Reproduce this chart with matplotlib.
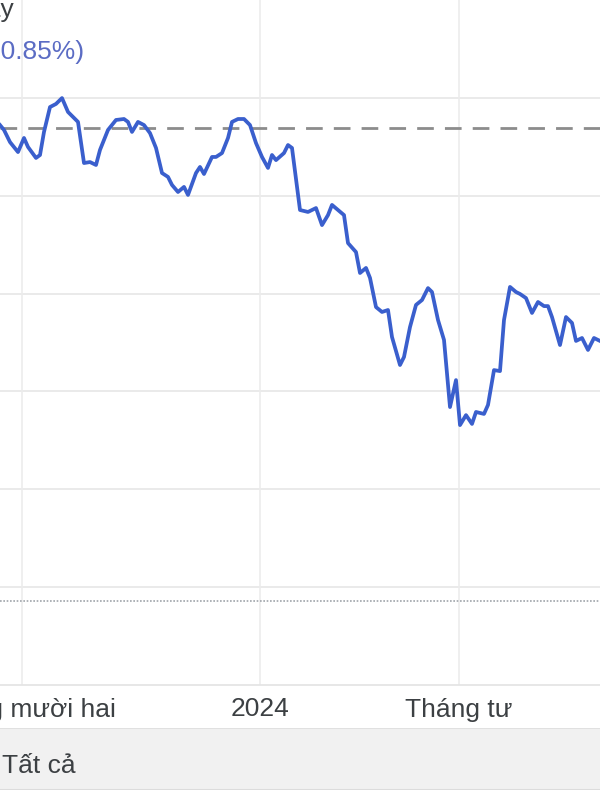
import matplotlib.pyplot as plt

plt.rcParams['font.family'] = ['Liberation Sans', 'DejaVu Sans']

# trading-day index (approx.) and closing price
days = [0, 2, 5, 9, 12, 14, 18, 20, 22, 25, 28, 31, 34, 39, 42, 45, 48, 50, 54, 58, 62, 64, 66, 69, 72, 75,
        78, 81, 84, 86, 89, 92, 94, 98, 100, 102, 106, 108, 111, 114, 116, 119, 122, 125, 128, 131, 134, 136,
        138, 142, 144, 146,
        150, 154, 158, 161, 164, 166, 169, 172, 174, 178, 180, 183, 185, 188, 191, 194, 196, 200, 202, 205,
        208, 211, 214, 216, 219, 222,
        225, 228, 230, 233, 236, 238, 242, 244, 247, 250, 252, 255, 258, 260, 263, 266, 269, 272, 274, 276,
        280, 283, 286, 288, 291, 294, 297, 300]
prices = [1286.1, 1283.6, 1277.4, 1272.3, 1279.5, 1274.9, 1269.3, 1270.8, 1282.6, 1295.3, 1296.9, 1299.9,
          1292.8, 1287.7, 1266.7, 1267.2, 1265.7, 1273.4, 1283.6, 1288.7, 1289.2, 1287.7, 1282.6, 1287.7,
          1286.1, 1282.0,
          1274.4, 1261.6, 1259.6, 1255.5, 1251.9, 1254.5, 1250.4, 1261.6, 1264.7, 1261.1, 1269.8, 1269.8,
          1271.8, 1279.5, 1287.7, 1289.2, 1289.2, 1286.1, 1276.9, 1269.8, 1264.2, 1270.8, 1268.2, 1271.8,
          1275.9, 1274.4,
          1242.7, 1241.7, 1243.7, 1235.0, 1240.1, 1245.3, 1242.7, 1240.1, 1225.8, 1221.2, 1210.5, 1213.1,
          1208.0, 1193.1, 1190.6, 1191.6, 1177.8, 1163.5, 1167.6, 1182.9, 1194.2, 1196.7, 1202.8, 1200.8,
          1186.5, 1176.3,
          1142.0, 1155.8, 1132.8, 1137.9, 1133.4, 1139.5, 1138.5, 1143.1, 1160.9, 1160.4, 1186.5, 1203.4,
          1200.8, 1199.8, 1197.7, 1190.1, 1195.7, 1193.6, 1193.6, 1188.0, 1173.7, 1188.0, 1185.0, 1175.8,
          1177.3, 1171.2, 1177.3, 1175.8]
prev_close = 1284.6
low_ref = 1042.9
grid_levels = [1050, 1100, 1150, 1200, 1250, 1300]
tick_days = [11, 130, 229.5]
tick_labels = ['Tháng mười hai', '2024', 'Tháng tư']

fig = plt.figure(figsize=(6, 8), dpi=100)
ax = fig.add_axes([0, 1 - 685 / 800, 1, 685 / 800])

for lv in grid_levels:
    ax.axhline(lv, color='#e6e6e6', lw=1.2, zorder=0)
for d in tick_days:
    ax.axvline(d, color='#ececec', lw=1.2, zorder=0)

ax.axhline(prev_close, color='#8c8c8c', lw=2, dashes=(6, 4), zorder=1)
ax.axhline(low_ref, color='#a0a4aa', lw=1.2, dashes=(1, 1), zorder=1)
ax.plot(days, prices, color='#3a5fcd', lw=2.7, solid_joinstyle='round', zorder=2)

ax.set_xlim(0, 300)
ax.set_ylim(1000, 1350)
ax.set_yticks([])
ax.set_xticks(tick_days)
ax.set_xticklabels(tick_labels, fontsize=19, color='#3c4043')
ax.tick_params(axis='x', length=0, pad=9)
for s in ['top', 'left', 'right']:
    ax.spines[s].set_visible(False)
ax.spines['bottom'].set_color('#e3e3e3')
ax.spines['bottom'].set_linewidth(1.2)

# header text, cut off at the left edge like the screenshot
fig.text(14 / 600, 1 - 10 / 800, 'Hôm nay', ha='right', va='center', fontsize=19, color='#3c4043')
fig.text(84 / 600, 1 - 52 / 800, '(-0.85%)', ha='right', va='center', fontsize=19, color='#5b6cc4')

# bottom range bar
band = fig.add_axes([0, 10 / 800, 1, 62 / 800])
band.set_facecolor('#f1f1f1')
band.set_xticks([])
band.set_yticks([])
for s in band.spines.values():
    s.set_visible(False)
band.axhline(1, color='#e0e0e0', lw=1.5)
band.axhline(0, color='#dcdcdc', lw=1.5)
band.text(2 / 600, 0.38, 'Tất cả', ha='left', va='center', fontsize=19, color='#3c4043',
          transform=band.transAxes)

fig.savefig('out.png', dpi=100)
